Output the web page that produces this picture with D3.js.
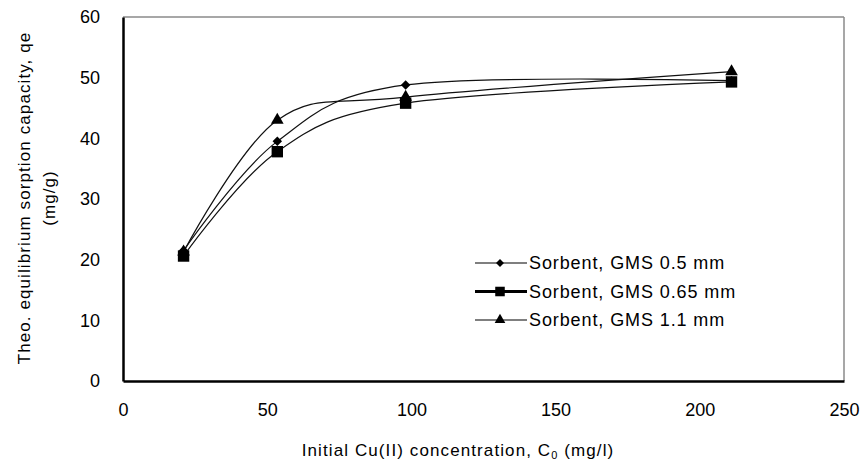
<!DOCTYPE html>
<html>
<head>
<meta charset="utf-8">
<script src="https://cdn.jsdelivr.net/npm/d3@7"></script>
<style>
  body { margin: 0; background: #fff; }
  text { font-family: "Liberation Sans", Arial, sans-serif; fill: #000; }
</style>
</head>
<body>
<script>
'use strict';

// data
const concentrations = [21, 53.5, 98, 211];
const seriesNames = ["Sorbent, GMS 0.5 mm", "Sorbent, GMS 0.65 mm", "Sorbent, GMS 1.1 mm"];
const gms05 = [21.5, 39.5, 48.8, 49.5];
const gms065 = [20.6, 37.8, 45.8, 49.3];
const gms11 = [21.3, 43.0, 46.8, 51.0];
const xTicks = [0, 50, 100, 150, 200, 250];
const yTicks = [0, 10, 20, 30, 40, 50, 60];

(function () {
    const W = 863, H = 461;
    const m = { left: 123, right: 19, top: 17, bottom: 80 };

    const svg = d3.select("body").append("svg")
        .attr("width", W)
        .attr("height", H);

    const x = d3.scaleLinear().domain([0, 250]).range([m.left, W - m.right]);
    const y = d3.scaleLinear().domain([0, 60]).range([H - m.bottom, m.top]);

    // frame: grey top/right, black left/bottom
    svg.append("line")
        .attr("x1", x(0)).attr("x2", x(250)).attr("y1", y(60)).attr("y2", y(60))
        .attr("stroke", "#8a8a8a").attr("stroke-width", 1.5);
    svg.append("line")
        .attr("x1", x(250)).attr("x2", x(250)).attr("y1", y(60)).attr("y2", y(0))
        .attr("stroke", "#8a8a8a").attr("stroke-width", 1.5);

    // axes with no tick marks, just labels
    const xAxis = d3.axisBottom(x).tickValues(xTicks).tickSize(0).tickPadding(22);
    const yAxis = d3.axisLeft(y).tickValues(yTicks).tickSize(0).tickPadding(23);

    const gx = svg.append("g")
        .attr("transform", `translate(0,${y(0)})`)
        .call(xAxis);
    const gy = svg.append("g")
        .attr("transform", `translate(${x(0)},0)`)
        .call(yAxis);

    [gx, gy].forEach(g => {
        g.select(".domain").attr("stroke", "#000").attr("stroke-width", 2.5);
        g.selectAll("text").attr("font-size", 18).attr("font-family", "Liberation Sans, Arial, sans-serif");
    });

    // axis titles
    svg.append("text")
        .attr("x", 458).attr("y", 456)
        .attr("text-anchor", "middle")
        .attr("font-size", 17)
        .attr("letter-spacing", 1.1)
        .html('Initial Cu(II)  concentration, C<tspan font-size="11" dy="3">0</tspan><tspan dy="-3"> (mg/l)</tspan>');

    svg.append("text")
        .attr("transform", "translate(30,198) rotate(-90)")
        .attr("text-anchor", "middle")
        .attr("font-size", 17)
        .attr("letter-spacing", 1.1)
        .text("Theo. equilibrium sorption capacity, qe");
    svg.append("text")
        .attr("transform", "translate(55,198) rotate(-90)")
        .attr("text-anchor", "middle")
        .attr("font-size", 17)
        .attr("letter-spacing", 1.1)
        .text("(mg/g)");

    const series = [
        { name: seriesNames[0], values: gms05, symbol: d3.symbolSquare, rot: 45, size: 45, width: 1.2, legendWidth: 1.2 },
        { name: seriesNames[1], values: gms065, symbol: d3.symbolSquare, rot: 0, size: 130, width: 1.2, legendWidth: 3 },
        { name: seriesNames[2], values: gms11, symbol: d3.symbolTriangle, rot: 0, size: 70, width: 1.2, legendWidth: 1.2 }
    ];

    const line = d3.line()
        .x((d, i) => x(concentrations[i]))
        .y(d => y(d))
        .curve(d3.curveCardinal.tension(0));

    series.forEach(s => {
        svg.append("path")
            .attr("d", line(s.values))
            .attr("fill", "none")
            .attr("stroke", "#111")
            .attr("stroke-width", s.width);
    });

    series.forEach(s => {
        svg.append("g")
            .selectAll("path")
            .data(s.values)
            .enter()
            .append("path")
            .attr("d", d3.symbol().type(s.symbol).size(s.size))
            .attr("transform", (d, i) => `translate(${x(concentrations[i])},${y(d)}) rotate(${s.rot})`)
            .attr("fill", "#000");
    });

    // legend
    const legend = svg.append("g").attr("transform", "translate(475,263)");
    series.forEach((s, i) => {
        const row = legend.append("g").attr("transform", `translate(0,${i * 28.5})`);
        row.append("line")
            .attr("x1", 0).attr("x2", 52)
            .attr("stroke", "#000").attr("stroke-width", s.legendWidth);
        row.append("path")
            .attr("d", d3.symbol().type(s.symbol).size(s.size * 0.7))
            .attr("transform", `translate(25,0) rotate(${s.rot})`);
        row.append("text")
            .attr("x", 54).attr("y", 6)
            .attr("font-size", 18)
            .attr("letter-spacing", 0.9)
            .text(s.name);
    });
})();
</script>
</body>
</html>
